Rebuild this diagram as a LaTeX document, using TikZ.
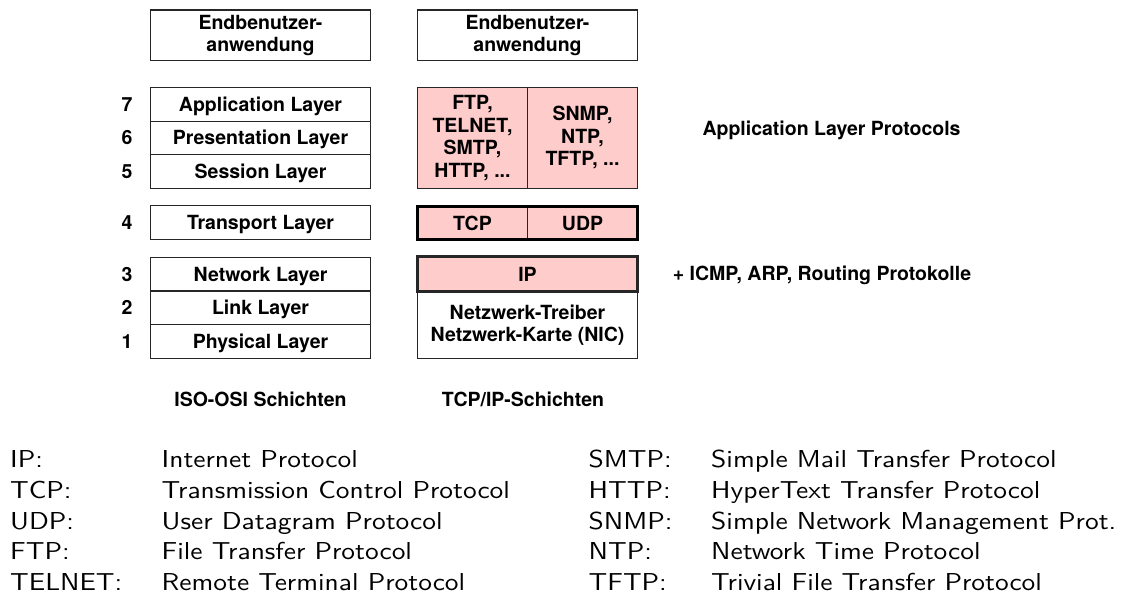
\documentclass[tikz,border=0pt]{standalone}
\usepackage{fontspec}
\newfontfamily\hv{TeX Gyre Heros}
\newfontfamily\lms{lmsans10-regular.otf}[FakeStretch=1.12]
\definecolor{pinkfill}{HTML}{FFCCCC}
\begin{document}
\begin{tikzpicture}[x=1pt,y=-1pt,
  lbl/.style={font=\hv\bfseries\fontsize{19.5}{22}\selectfont, align=center, inner sep=0pt},
  one/.style={text height=14pt, text depth=0pt},
  layer/.style={lbl, draw=black!85, line width=1.1pt, minimum width=220pt, minimum height=33.7pt, outer sep=0pt},
  half/.style={layer, minimum width=110pt, fill=pinkfill},
  legend/.style={font=\lms\fontsize{24.5}{30}\selectfont, anchor=base west, inner sep=0pt}
]
\useasboundingbox (0,0) rectangle (1123,605);
% left column
\node[layer, minimum height=50.5pt] (e1) at (260.5,35.25) {Endbenutzer-\\anwendung};
\node[layer, one] (l7) at (260.5,104.2) {Application Layer};
\node[layer, one] (l6) at (260.5,137.9) {Presentation Layer};
\node[layer, one] (l5) at (260.5,171.6) {Session Layer};
\node[layer, one] (l4) at (260.5,222.6) {Transport Layer};
\node[layer, one] (l3) at (260.5,274.1) {Network Layer};
\node[layer, one] (l2) at (260.5,307.8) {Link Layer};
\node[layer, one] (l1) at (260.5,341.5) {Physical Layer};
% numbers
\node[lbl, one] (n7) at (127,104.2) {7};
\node[lbl, one] (n6) at (127,137.9) {6};
\node[lbl, one] (n5) at (127,171.6) {5};
\node[lbl, one] (n4) at (127,222.6) {4};
\node[lbl, one] (n3) at (127,274.1) {3};
\node[lbl, one] (n2) at (127,307.8) {2};
\node[lbl, one] (n1) at (127,341.5) {1};
% right column
\node[layer, minimum height=50.5pt] (e2) at (527.5,35.25) {Endbenutzer-\\anwendung};
\node[half, minimum height=101.2pt, font=\hv\bfseries\fontsize{19.5}{22.5}\selectfont] (apl) at (472.5,137.9) {FTP,\\TELNET,\\SMTP,\\HTTP, ...};
\node[half, minimum height=101.2pt, font=\hv\bfseries\fontsize{19.5}{22.5}\selectfont] (apr) at (582.5,137.9) {SNMP,\\NTP,\\TFTP, ...};
\node[half, one, line width=1.6pt, minimum height=33.5pt] (tcp) at (472.5,223.2) {TCP};
\node[half, one, line width=1.6pt, minimum height=33.5pt] (udp) at (582.5,223.2) {UDP};
\draw[line width=3pt] (tcp.north west) rectangle (udp.south east);
\node[layer, minimum height=67.3pt] (nic) at (527.5,324.7) {Netzwerk-Treiber\\Netzwerk-Karte (NIC)};
\node[layer, one, fill=pinkfill, line width=3pt, minimum height=34.5pt] (ip) at (527.5,274.2) {IP};
% side labels
\node[lbl, anchor=base] (alp) at (831.5,135) {Application Layer Protocols};
\node[lbl, anchor=base] (icmp) at (822,280) {+ ICMP, ARP, Routing Protokolle};
% captions
\node[lbl, anchor=base] (cap1) at (260.5,406.7) {ISO-OSI Schichten};
\node[lbl, anchor=base] (cap2) at (523,406.7) {TCP/IP-Schichten};
% legend
\node[legend] (a1) at (10,467.5) {IP:};
\node[legend] (a2) at (10,498.3) {TCP:};
\node[legend] (a3) at (10,529.1) {UDP:};
\node[legend] (a4) at (10,559.9) {FTP:};
\node[legend] (a5) at (10,590.7) {TELNET:};
\node[legend] (d1) at (161.5,467.5) {Internet Protocol};
\node[legend] (d2) at (161.5,498.3) {Transmission Control Protocol};
\node[legend] (d3) at (161.5,529.1) {User Datagram Protocol};
\node[legend] (d4) at (161.5,559.9) {File Transfer Protocol};
\node[legend] (d5) at (161.5,590.7) {Remote Terminal Protocol};
\node[legend] (b1) at (588.5,467.5) {SMTP:};
\node[legend] (b2) at (588.5,498.3) {HTTP:};
\node[legend] (b3) at (588.5,529.1) {SNMP:};
\node[legend] (b4) at (588.5,559.9) {NTP:};
\node[legend] (b5) at (588.5,590.7) {TFTP:};
\node[legend] (c1) at (711,467.5) {Simple Mail Transfer Protocol};
\node[legend] (c2) at (711,498.3) {HyperText Transfer Protocol};
\node[legend] (c3) at (711,529.1) {Simple Network Management Prot.};
\node[legend] (c4) at (711,559.9) {Network Time Protocol};
\node[legend] (c5) at (711,590.7) {Trivial File Transfer Protocol};
\end{tikzpicture}
\end{document}
